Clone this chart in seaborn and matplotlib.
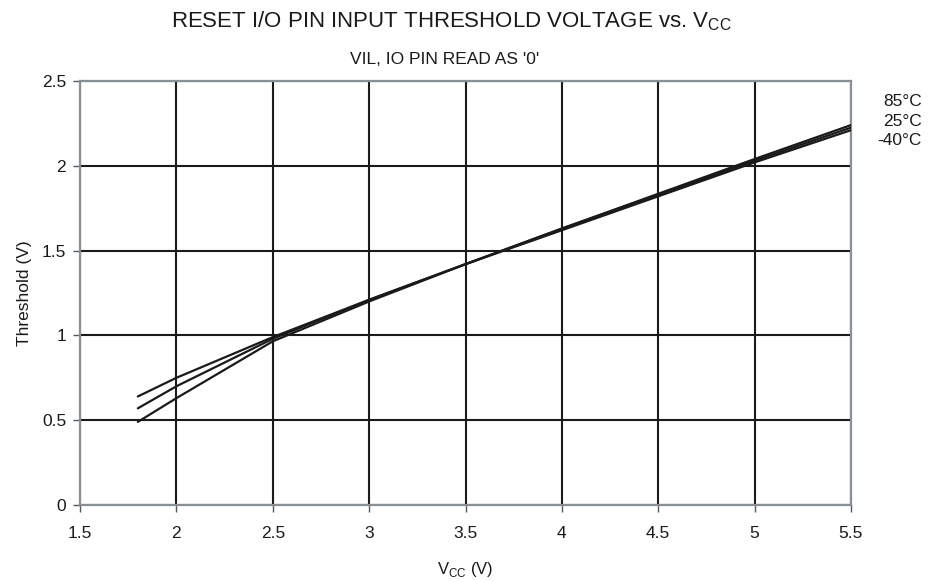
import numpy as np
import pandas as pd
import matplotlib
matplotlib.use("Agg")
import matplotlib.pyplot as plt
import seaborn as sns

vcc = [1.8, 2.0, 2.5, 3.0, 3.5, 4.0, 4.5, 5.0, 5.5]
t_85 = [0.64, 0.75, 0.99, 1.21, 1.42, 1.62, 1.82, 2.02, 2.21]
t_25 = [0.57, 0.70, 0.98, 1.21, 1.42, 1.63, 1.83, 2.03, 2.225]
t_m40 = [0.49, 0.63, 0.965, 1.20, 1.42, 1.63, 1.835, 2.04, 2.24]
temps = ["85°C", "25°C", "-40°C"]
x_ticks = [1.5, 2, 2.5, 3, 3.5, 4, 4.5, 5, 5.5]
y_ticks = [0, 0.5, 1, 1.5, 2, 2.5]

df = pd.concat([
    pd.DataFrame({"vcc": vcc, "thr": vals, "temp": name})
    for name, vals in zip(temps, [t_85, t_25, t_m40])
])

sns.set_theme(style="white")
plt.rcParams["font.family"] = ["Liberation Sans", "DejaVu Sans"]
plt.rcParams["mathtext.fontset"] = "custom"
plt.rcParams["mathtext.rm"] = "Liberation Sans"

fig = plt.figure(figsize=(9.37, 5.81), dpi=100)
ax = fig.add_axes([0.0854, 0.1308, 0.8228, 0.7298])

sns.lineplot(data=df, x="vcc", y="thr", hue="temp", palette=["#1a1a1a"] * 3,
             linewidth=1.6, legend=False, ax=ax, zorder=3)

ax.set_xlim(1.5, 5.5)
ax.set_ylim(0, 2.5)
ax.set_xticks(x_ticks)
ax.set_xticklabels([f"{v:g}" for v in x_ticks])
ax.set_yticks(y_ticks)
ax.set_yticklabels([f"{v:g}" for v in y_ticks])
ax.grid(True, color="#1a1a1a", linewidth=1.5)
for s in ax.spines.values():
    s.set_color("#8a8f94")
    s.set_linewidth(1.6)
ax.tick_params(axis="both", bottom=True, left=True, length=5, width=1,
               color="#555a5e", labelsize=12.5, labelcolor="#1a1a1a")
ax.tick_params(axis="x", pad=10)
ax.tick_params(axis="y", pad=5)

ax.set_xlabel(r"V$_{\mathregular{CC}}$ (V)", fontsize=12, labelpad=14, color="#1a1a1a")
ax.set_ylabel("Threshold (V)", fontsize=12.5, labelpad=7, color="#1a1a1a")

fig.text(0.482, 1 - 27 / 581, r"RESET I/O PIN INPUT THRESHOLD VOLTAGE vs. V$_{\mathregular{CC}}$",
         ha="center", va="baseline", fontsize=16, color="#1a1a1a")
fig.text(0.474, 1 - 64 / 581, "VIL, IO PIN READ AS '0'", ha="center", va="baseline",
         fontsize=12.5, color="#1a1a1a")

for i, name in enumerate(temps):
    fig.text(0.984, 1 - (106 + 19.7 * i) / 581, name, ha="right", va="baseline",
             fontsize=12.5, color="#1a1a1a")

fig.savefig("out.png", dpi=100)
